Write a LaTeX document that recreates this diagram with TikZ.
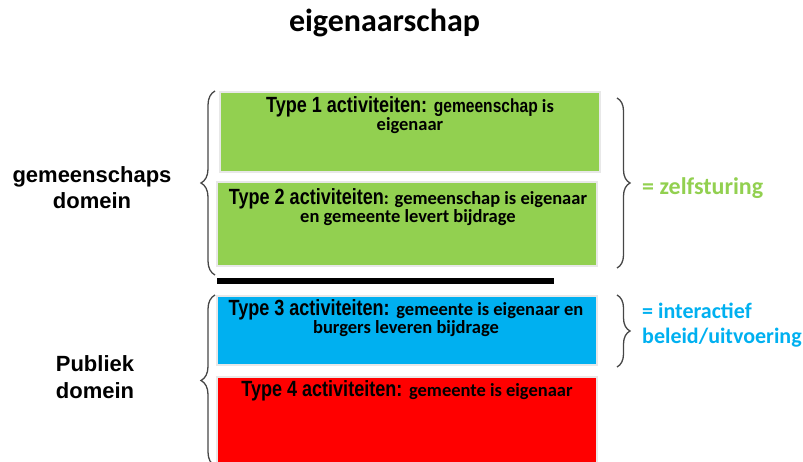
\documentclass[tikz,border=0pt]{standalone}
\usepackage{fontspec}
\setmainfont{Liberation Sans}
\newfontfamily\typefont[FakeStretch=0.82]{Liberation Sans}
\newfontfamily\calfont{Carlito}
\usetikzlibrary{decorations.pathreplacing}
\definecolor{boxgreen}{RGB}{146,208,80}
\definecolor{boxblue}{RGB}{0,176,240}
\definecolor{boxred}{RGB}{255,0,0}
\definecolor{bracegray}{RGB}{70,70,70}
\definecolor{edgegray}{RGB}{232,232,232}
\tikzset{
  actbox/.style={draw=edgegray, line width=2pt},
  boxtext/.style={anchor=base, align=center, inner sep=0pt, text=black},
  sidelabel/.style={anchor=base, align=center, inner sep=0pt, font=\bfseries\fontsize{22}{26.5}\selectfont},
  curly/.style={draw=bracegray, line width=1.3pt, decorate, decoration={brace, amplitude=#1}},
}
\newcommand{\tf}[1]{{\typefont\bfseries\fontsize{22}{19}\selectfont #1}}
\newcommand{\tg}[1]{{\typefont\bfseries\fontsize{19}{19}\selectfont #1}}
\newcommand{\cf}[1]{{\calfont\bfseries\fontsize{18.5}{19}\selectfont #1}}
\begin{document}
\begin{tikzpicture}[x=1pt, y=-1pt]
\useasboundingbox (0,0) rectangle (803,462);
% title
\node[anchor=base, inner sep=0pt, font=\calfont\bfseries\fontsize{32}{38}\selectfont] (title) at (384.5,32) {eigenaarschap};
% boxes
\path[actbox, fill=boxgreen] (220,92) rectangle (600,172);
\path[actbox, fill=boxgreen] (217,182) rectangle (597,266);
\path[actbox, fill=boxblue] (217,296) rectangle (597,365);
\path[actbox, fill=boxred] (217,377) rectangle (597,475);
% bar
\coordinate (barL) at (217,281);
\coordinate (barR) at (554,281);
\draw[line width=5.5pt, black] (barL) -- (barR);
% box texts (anchor = baseline of last line)
\node[boxtext] (t1) at (410,131) {\tf{Type 1 activiteiten: }\tg{gemeenschap}\cf{ is}\\\cf{eigenaar}};
\node[boxtext] (t2) at (408,223) {\tf{Type 2 activiteiten}\cf{: gemeenschap is eigenaar}\\\cf{en gemeente levert bijdrage}};
\node[boxtext] (t3) at (406,334) {\tf{Type 3 activiteiten: }\cf{gemeente is eigenaar en}\\\cf{burgers leveren bijdrage}};
\node[boxtext] (t4) at (407,396) {\tf{Type 4 activiteiten: }\cf{gemeente is eigenaar}};
% left labels
\node[sidelabel] (gd) at (92,209) {gemeenschaps\\domein};
\node[sidelabel] (pd) at (95,398) {Publiek\\domein};
% braces
\coordinate (lb1top) at (215,91);
\coordinate (lb1bot) at (215,275);
\coordinate (lb2top) at (215,295);
\coordinate (lb2bot) at (215,466);
\draw[curly=14pt] (lb1bot) -- (lb1top);
\draw[curly=14pt] (lb2bot) -- (lb2top);
\coordinate (rb1top) at (617,98);
\coordinate (rb1bot) at (617,268);
\coordinate (rb2top) at (617,295);
\coordinate (rb2bot) at (617,367);
\draw[curly=13pt] (rb1top) -- (rb1bot);
\draw[curly=13pt] (rb2top) -- (rb2bot);
% right labels
\node[anchor=base west, inner sep=0pt, text=boxgreen, font=\calfont\bfseries\fontsize{24}{25}\selectfont] (zs) at (642,195) {= zelfsturing};
\node[anchor=base west, align=left, inner sep=0pt, text=boxblue, font=\calfont\bfseries\fontsize{22}{25}\selectfont] (ib) at (642,343) {= interactief\\beleid/uitvoering};
\end{tikzpicture}
\end{document}
